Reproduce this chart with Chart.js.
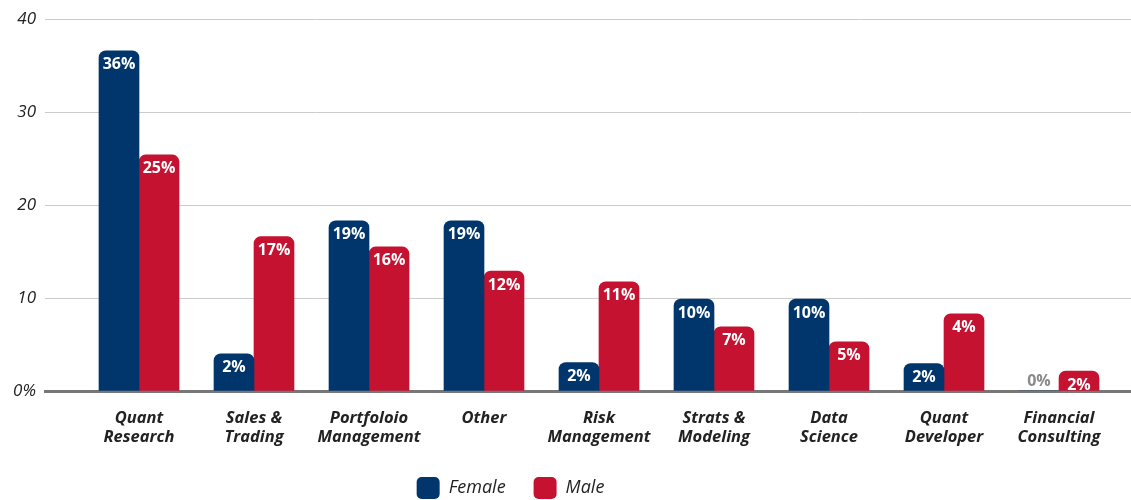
<!DOCTYPE html>
<html>
<head>
<meta charset="utf-8">
<script src="https://cdn.jsdelivr.net/npm/chart.js@4"></script>
<style>
  html, body { margin: 0; padding: 0; background: #fff; }
  #wrap { width: 1131px; height: 500px; position: relative; }
</style>
</head>
<body>
<div id="wrap"><canvas id="roles"></canvas></div>
<script>
"use strict";
// categories (two-line labels)
var categories = [
  ["Quant", "Research"],
  ["Sales &", "Trading"],
  ["Portfoloio", "Management"],
  ["Other"],
  ["Risk", "Management"],
  ["Strats &", "Modeling"],
  ["Data", "Science"],
  ["Quant", "Developer"],
  ["Financial", "Consulting"]
];
// bar heights as drawn
var femaleValues = [36.6, 4.0, 18.3, 18.3, 3.05, 9.9, 9.9, 2.95, 0];
var maleValues = [25.4, 16.6, 15.5, 12.9, 11.75, 6.9, 5.3, 8.3, 2.15];
// printed percentages
var femalePct = [36, 2, 19, 19, 2, 10, 10, 2, 0];
var malePct = [25, 17, 16, 12, 11, 7, 5, 4, 2];
var yTicks = [0, 10, 20, 30, 40];

var navy = "#00366b";
var red = "#c41230";

var barLabels = {
  id: "barLabels",
  afterDatasetsDraw: function (chart) {
    var ctx = chart.ctx;
    var pcts = [femalePct, malePct];
    ctx.save();
    ctx.textAlign = "center";
    ctx.textBaseline = "middle";
    ctx.font = "bold 16px 'Open Sans'";
    chart.data.datasets.forEach(function (ds, di) {
      chart.getDatasetMeta(di).data.forEach(function (bar, i) {
        var p = pcts[di][i];
        if (p === 0) {
          ctx.fillStyle = "#8a8a8a";
          ctx.fillText(p + "%", bar.x, bar.base - 10);
        } else {
          ctx.fillStyle = "#ffffff";
          ctx.fillText(p + "%", bar.x, bar.y + 14);
        }
      });
    });
    ctx.restore();
  }
};

// legend sits a bit left of centre in the original
var legendShift = {
  id: "legendShift",
  afterLayout: function (chart) {
    if (chart.legend) {
      chart.legend.left -= 55;
      chart.legend.right -= 55;
    }
  }
};

document.addEventListener("DOMContentLoaded", function () {
  var ctx = document.getElementById("roles").getContext("2d");
  new Chart(ctx, {
    type: "bar",
    data: {
      labels: categories,
      datasets: [
        {
          label: "Female",
          data: femaleValues,
          backgroundColor: navy,
          borderRadius: 7,
          borderSkipped: "start",
          barThickness: 40
        },
        {
          label: "Male",
          data: maleValues,
          backgroundColor: red,
          borderRadius: 7,
          borderSkipped: "start",
          barThickness: 40
        }
      ]
    },
    options: {
      responsive: true,
      maintainAspectRatio: false,
      animation: false,
      layout: { padding: { top: 10, right: 0, bottom: -9, left: 0 } },
      plugins: {
        tooltip: { enabled: false },
        legend: {
          position: "bottom",
          labels: {
            boxWidth: 23,
            boxHeight: 22,
            useBorderRadius: true,
            borderRadius: 5,
            padding: 28,
            color: "#222",
            font: { family: "'Open Sans'", size: 18, style: "italic" }
          }
        }
      },
      scales: {
        x: {
          afterBuildTicks: function (s) {
            s._startValue = -0.8174;
            s._valueRange = 9.4435;
          },
          afterFit: function (s) { s.height = 58; },
          grid: { display: false },
          border: { display: true, color: "#777", width: 3 },
          ticks: {
            padding: 10,
            color: "#222",
            font: { family: "'Open Sans'", size: 16.5, style: "italic", weight: "bold", lineHeight: 1.13 }
          }
        },
        y: {
          min: 0,
          max: 40,
          afterFit: function (s) { s.width = 45; },
          afterBuildTicks: function (s) {
            s.ticks = yTicks.map(function (v) { return { value: v }; });
          },
          grid: { color: "#cccccc", lineWidth: 1, drawTicks: false },
          border: { display: false },
          ticks: {
            padding: 9,
            color: "#222",
            font: { family: "'Open Sans'", size: 17, style: "italic" },
            callback: function (v) { return v === 0 ? "0%" : v; }
          }
        }
      }
    },
    plugins: [barLabels, legendShift]
  });
});
</script>
</body>
</html>
